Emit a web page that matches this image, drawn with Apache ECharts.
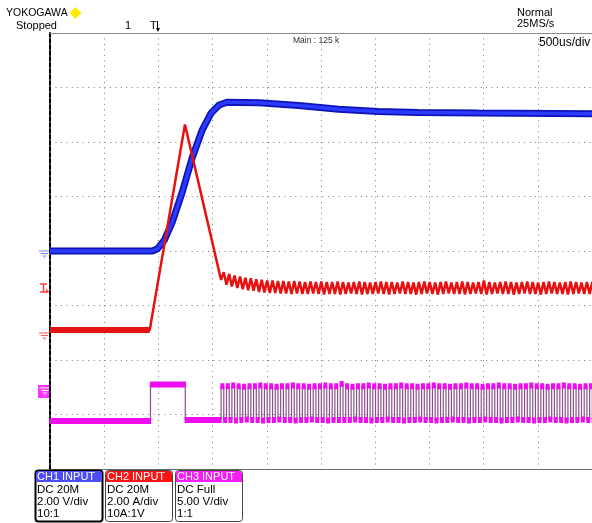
<!DOCTYPE html>
<html><head><meta charset="utf-8">
<script src="https://cdn.jsdelivr.net/npm/echarts/dist/echarts.min.js"></script>
<style>html,body{margin:0;padding:0;background:#fff}#c{width:592px;height:523px}</style>
</head><body><div id="c"></div>
<script>
// ---- data (x in microseconds, 500 us/div; y in screen divisions, 0 = bottom, 8 = top) ----
const xTicks = [0, 500, 1000, 1500, 2000, 2500, 3000, 3500, 4000, 4500, 5000];
// CH1 (blue) output voltage
const blueT = [0, 945, 991, 1055, 1128, 1220, 1312, 1404, 1486, 1560, 1633, 1927, 2294, 2661, 3028, 3394, 3945, 5000];
const blueV = [4.00, 4.00, 4.04, 4.20, 4.53, 5.08, 5.71, 6.22, 6.53, 6.68, 6.73, 6.72, 6.67, 6.60, 6.56, 6.54, 6.53, 6.52];
// CH2 (red) inductor current: start, ramp up, peak, ramp down
const redT = [0, 920, 1245, 1578];
const redV = [2.55, 2.55, 6.32, 3.47];
// switching section: 50 us period
const swStart = 1578, swPeriod = 50;
const redPeaks = [3.61, 3.58, 3.55, 3.53, 3.51, 3.50, 3.48, 3.47, 3.46, 3.46,
                  3.45, 3.45, 3.44, 3.45, 3.44, 3.43, 3.44, 3.43, 3.44, 3.43,
                  3.43, 3.44, 3.43, 3.42, 3.43, 3.44, 3.43, 3.42, 3.43, 3.44,
                  3.43, 3.43, 3.42, 3.44, 3.43, 3.42, 3.43, 3.44, 3.43, 3.42,
                  3.43, 3.44, 3.42, 3.43, 3.44, 3.43, 3.42, 3.43, 3.46, 3.43,
                  3.42, 3.43, 3.44, 3.43, 3.42, 3.43, 3.44, 3.43, 3.42, 3.43,
                  3.44, 3.43, 3.42, 3.43, 3.44, 3.43, 3.42, 3.43, 3.43];
const redTroughs = [3.38, 3.35, 3.32, 3.30, 3.28, 3.27, 3.25, 3.24, 3.23, 3.23,
                    3.22, 3.22, 3.21, 3.22, 3.21, 3.21, 3.22, 3.21, 3.20, 3.21,
                    3.21, 3.20, 3.21, 3.22, 3.21, 3.20, 3.21, 3.21, 3.22, 3.21,
                    3.20, 3.21, 3.22, 3.21, 3.21, 3.20, 3.21, 3.22, 3.21, 3.20,
                    3.21, 3.22, 3.21, 3.21, 3.20, 3.21, 3.22, 3.21, 3.20, 3.21,
                    3.22, 3.21, 3.21, 3.20, 3.21, 3.22, 3.21, 3.21, 3.20, 3.21,
                    3.22, 3.21, 3.21, 3.20, 3.21, 3.22, 3.21, 3.21, 3.21];
// CH3 (magenta) gate signal: boundaries and levels before switching
const magT = [0, 927, 1248, 1578];
const magV = [0.88, 1.55, 0.90];
const pwmHigh = [1.52, 1.52, 1.53, 1.52, 1.51, 1.52, 1.52, 1.53, 1.52, 1.52,
                 1.51, 1.52, 1.52, 1.53, 1.52, 1.52, 1.51, 1.52, 1.52, 1.53,
                 1.52, 1.52, 1.56, 1.52, 1.51, 1.52, 1.52, 1.53, 1.52, 1.52,
                 1.51, 1.52, 1.52, 1.53, 1.52, 1.52, 1.51, 1.52, 1.52, 1.53,
                 1.52, 1.52, 1.51, 1.52, 1.52, 1.53, 1.52, 1.52, 1.51, 1.52,
                 1.52, 1.53, 1.52, 1.52, 1.51, 1.52, 1.52, 1.53, 1.52, 1.52,
                 1.51, 1.52, 1.52, 1.53, 1.52, 1.52, 1.51, 1.52, 1.52];
const pwmLow = [0.90, 0.90, 0.89, 0.90, 0.91, 0.90, 0.90, 0.89, 0.90, 0.90,
                0.91, 0.90, 0.90, 0.89, 0.90, 0.90, 0.91, 0.90, 0.90, 0.89,
                0.90, 0.90, 0.90, 0.90, 0.91, 0.90, 0.90, 0.89, 0.90, 0.90,
                0.91, 0.90, 0.90, 0.89, 0.90, 0.90, 0.91, 0.90, 0.90, 0.89,
                0.90, 0.90, 0.91, 0.90, 0.90, 0.89, 0.90, 0.90, 0.91, 0.90,
                0.90, 0.89, 0.90, 0.90, 0.91, 0.90, 0.90, 0.89, 0.90, 0.90,
                0.91, 0.90, 0.90, 0.89, 0.90, 0.90, 0.91, 0.90, 0.90];
const channels = [
  {name: 'CH1 INPUT', lines: ['DC 20M', '2.00 V/div', '10:1'], color: '#4d4df5'},
  {name: 'CH2 INPUT', lines: ['DC 20M', '2.00 A/div', '10A:1V'], color: '#ff1414'},
  {name: 'CH3 INPUT', lines: ['DC Full', '5.00 V/div', '1:1'], color: '#f51ef5'}
];

// ---- build series data ----
const blueData = blueT.map((t, i) => [t, blueV[i]]);
const redData = redT.map((t, i) => [t, redV[i]]);
redPeaks.forEach((p, k) => {
  redData.push([swStart + swPeriod * k + swPeriod / 2, p]);
  redData.push([swStart + swPeriod * (k + 1), redTroughs[k]]);
});
const redBase = redData.slice(0, 2);
const segs = [];
for (let i = 0; i < magV.length; i++) segs.push([magT[i], magT[i + 1], magV[i]]);
pwmHigh.forEach((h, k) => {
  const s = swStart + swPeriod * k;
  segs.push([s, s + swPeriod / 2, h]);
  segs.push([s + swPeriod / 2, s + swPeriod, pwmLow[k]]);
});
// persistence blur: the thick level bands spread a little past each edge
const blur = 6;
const magThin = [], magThick = [];
segs.forEach(([a, b, v]) => {
  magThin.push([a, v], [b, v]);
  magThick.push([a - blur, v], [b + blur, v], [b + blur, '-']);
});

const FONT = '"Liberation Sans", Arial, sans-serif';
const dotted = {color: '#7c7c7c', width: 1, type: [1, 4.45]};

function txt(text, x, y, size, opts) {
  return {type: 'text', x: x, y: y, silent: true,
    style: Object.assign({text: text, font: size + 'px ' + FONT, fill: '#000', verticalAlign: 'middle'}, (opts || {}))};
}
function line(x1, y1, x2, y2, color, w) {
  return {type: 'line', silent: true, shape: {x1, y1, x2, y2}, style: {stroke: color, lineWidth: w || 1}};
}
function ground(x, y, color) {
  return [line(x, y, x + 11, y, color), line(x + 2, y + 2.5, x + 9, y + 2.5, color),
          line(x + 3.5, y + 5, x + 7.5, y + 5, color), line(x + 5, y + 7, x + 6, y + 7, color)];
}

const graphics = [
  txt('YOKOGAWA', 6, 13, 10.5),
  {type: 'polygon', silent: true, shape: {points: [[75.5, 7], [81.5, 13], [75.5, 19], [69.5, 13]]}, style: {fill: '#ffea00'}},
  txt('Stopped', 16, 26, 11),
  txt('1', 125, 26, 11),
  txt('T', 150, 26, 11),
  line(157.5, 21, 157.5, 30, '#000', 1),
  {type: 'polygon', silent: true, shape: {points: [[156, 28], [160, 28], [158, 32]]}, style: {fill: '#000'}},
  txt('Normal', 517, 13, 11),
  txt('25MS/s', 517, 24, 11),
  txt('Main : 125 k', 293, 41, 8.5, {fill: '#333'}),
  txt('500us/div', 539, 43, 12),
  // red trigger level marker
  line(40, 284, 47, 284, '#ff4040', 1.5), line(43.5, 284, 43.5, 292, '#ff4040', 1.5), line(40, 292, 47, 292, '#ff4040', 1.5),
  {type: 'polygon', silent: true, shape: {points: [[46, 289], [50, 292], [46, 293]]}, style: {fill: '#ff4040'}},
  // magenta ground box
  {type: 'rect', silent: true, shape: {x: 38, y: 385, width: 12, height: 13}, style: {fill: '#ff33ff'}}
].concat(ground(39, 251, '#7a7aff'), ground(39, 333, '#ff5a5a'), ground(39.5, 388, '#ffffff'));

channels.forEach((ch, i) => {
  const x0 = 35 + i * 70, y0 = 470, w = 67, h = 51;
  graphics.push({type: 'rect', silent: true, shape: {x: x0 + 0.5, y: y0 + 0.5, width: w, height: h, r: 3},
    style: {fill: '#fff', stroke: i === 0 ? '#000' : '#444', lineWidth: i === 0 ? 2 : 1}, z: 10});
  graphics.push({type: 'rect', silent: true, shape: {x: x0 + 1, y: y0 + 1, width: w - 1, height: 11, r: [3, 3, 0, 0]},
    style: {fill: ch.color}, z: 11});
  graphics.push(Object.assign(txt(ch.name, x0 + 2, y0 + 6.5, 11, {fill: '#fff'}), {z: 12}));
  ch.lines.forEach((l, j) => graphics.push(Object.assign(txt(l, x0 + 2, y0 + 20 + j * 12, 11.5), {z: 12})));
});

const chart = echarts.init(document.getElementById('c'), null, {renderer: 'canvas'});
chart.setOption({
  animation: false,
  backgroundColor: '#fff',
  grid: {left: 50, top: 33, width: 545, height: 436},
  xAxis: [{
    type: 'value', min: xTicks[0], max: xTicks[xTicks.length - 1], interval: 500,
    axisLine: {show: true, onZero: false, lineStyle: {color: '#6a6a6a', width: 1}},
    axisTick: {show: false}, axisLabel: {show: false},
    splitLine: {show: true, lineStyle: dotted}
  }, {
    type: 'value', position: 'top', min: xTicks[0], max: xTicks[xTicks.length - 1], interval: 500,
    axisLine: {show: true, onZero: false, lineStyle: {color: '#8a8a8a', width: 1}},
    axisTick: {show: false}, axisLabel: {show: false}, splitLine: {show: false}
  }],
  yAxis: {
    type: 'value', min: 0, max: 8, interval: 1,
    axisLine: {show: true, onZero: false, lineStyle: {color: '#000', width: 2, type: [4, 2]}},
    axisTick: {show: false}, axisLabel: {show: false},
    splitLine: {show: true, lineStyle: dotted}
  },
  series: [
    {type: 'line', data: magThin, symbol: 'none', lineStyle: {color: '#8e4e8e', width: 1.2}, z: 3},
    {type: 'line', data: magThick, symbol: 'none', connectNulls: false, lineStyle: {color: '#f00cf0', width: 6}, z: 4},
    {type: 'line', data: blueData, symbol: 'none', lineStyle: {color: '#0f12b8', width: 7}, z: 5},
    {type: 'line', data: blueData, symbol: 'none', lineStyle: {color: '#2a3cff', width: 3.5}, z: 6},
    {type: 'line', data: redBase, symbol: 'none', lineStyle: {color: '#e01414', width: 6}, z: 7},
    {type: 'line', data: redData, symbol: 'none', lineStyle: {color: '#e81010', width: 2.5}, z: 8}
  ],
  graphic: graphics
});
</script></body></html>
